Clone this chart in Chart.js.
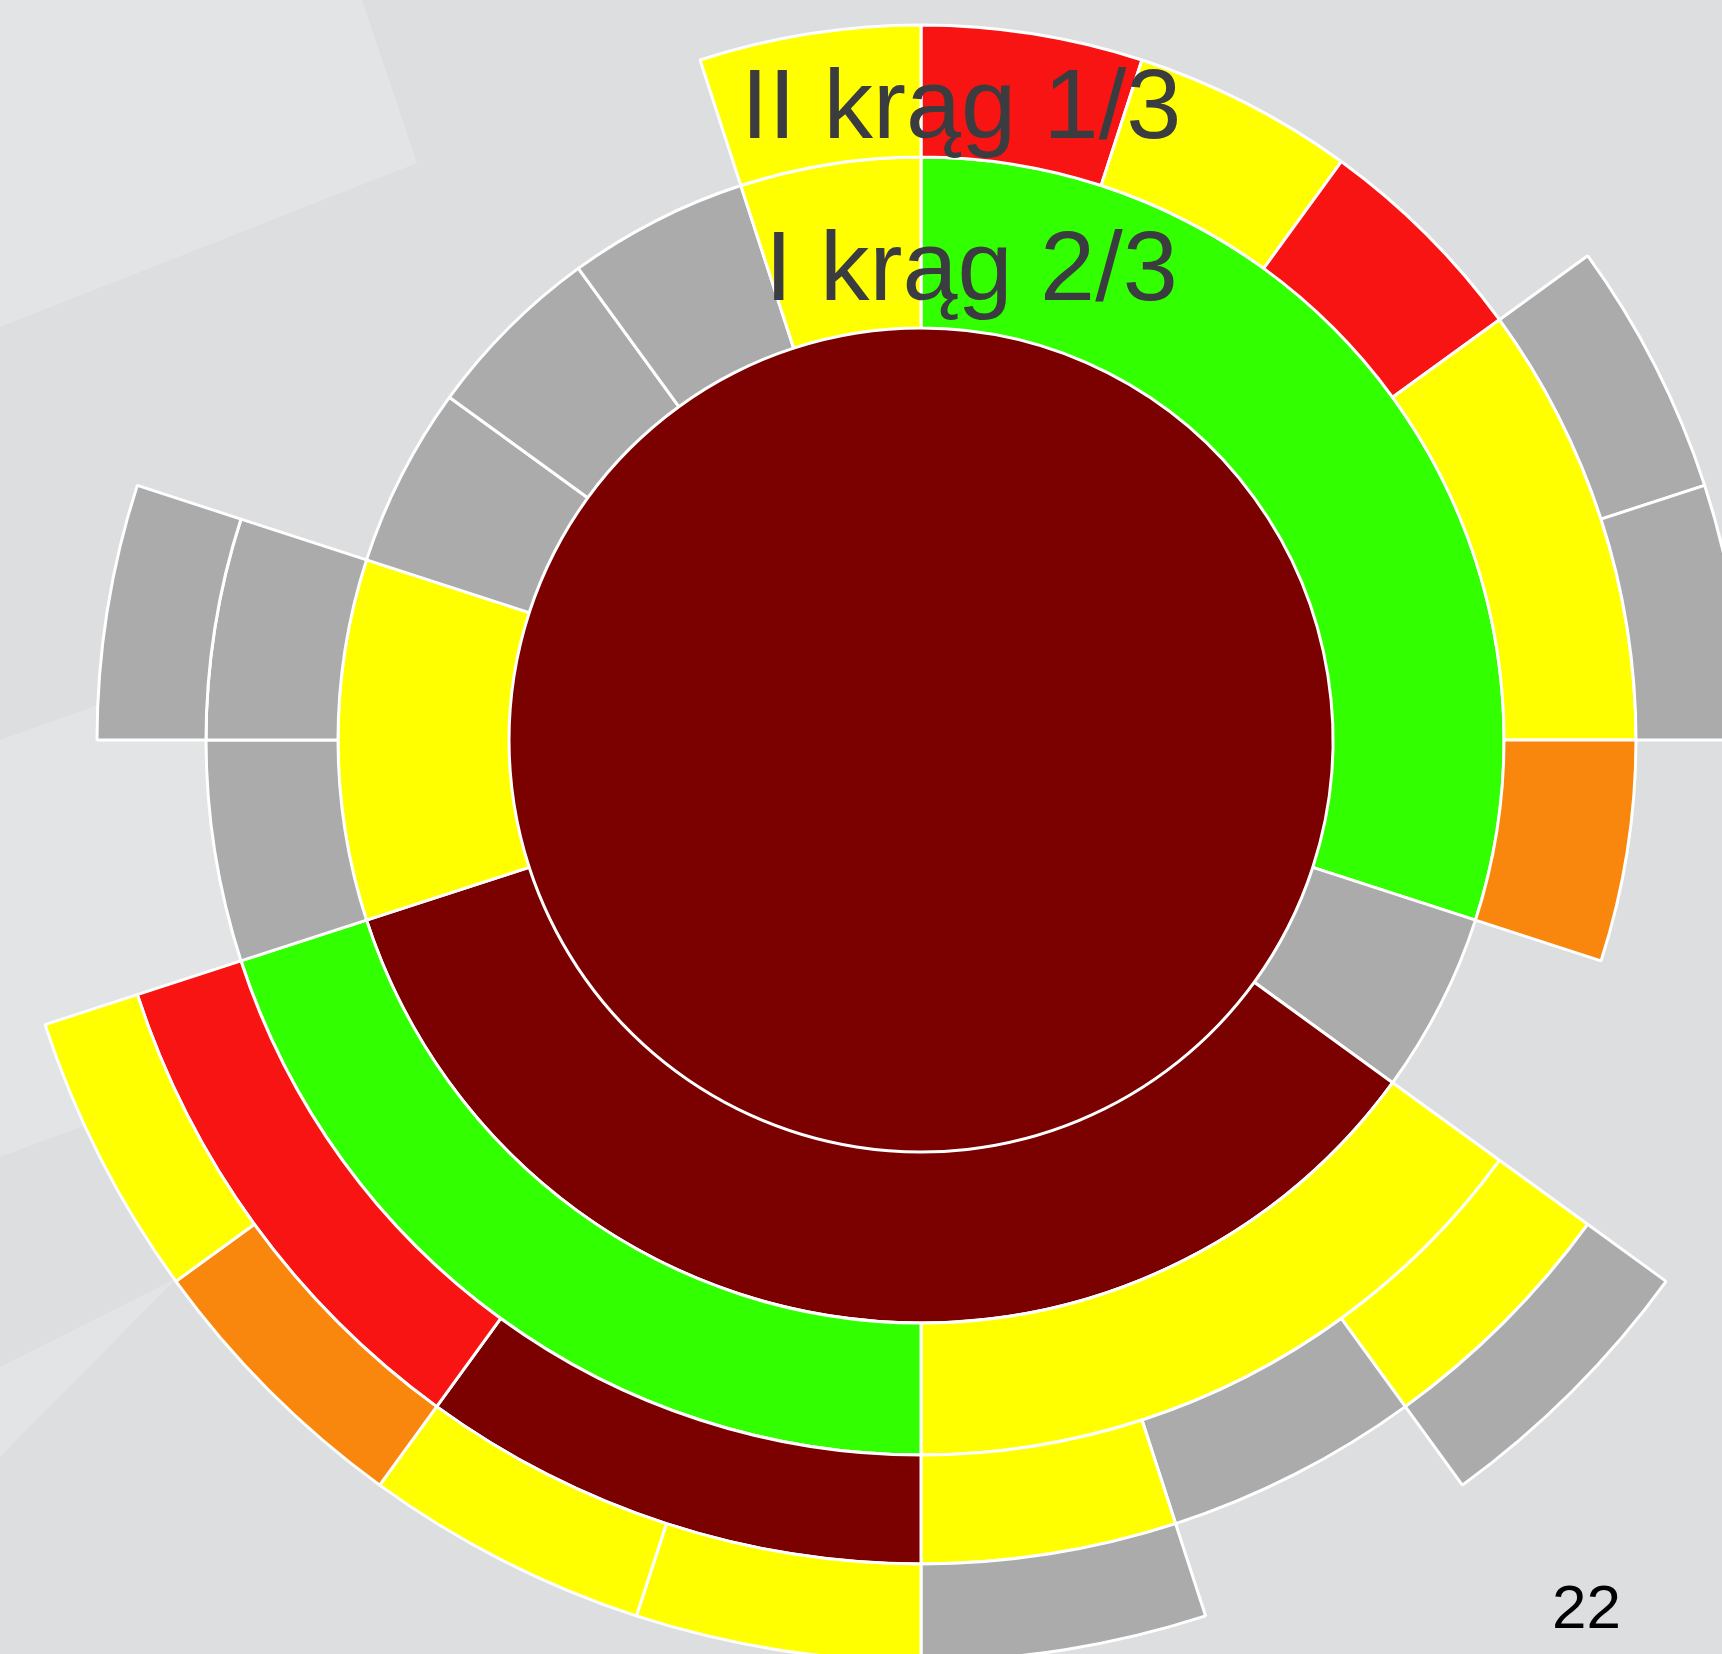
<!DOCTYPE html>
<html lang="pl">
<head>
<meta charset="utf-8">
<title>Krąg</title>
<script src="https://cdn.jsdelivr.net/npm/chart.js@4.4.1/dist/chart.umd.min.js"></script>
<style>
  html, body { margin: 0; padding: 0; }
  body {
    width: 1722px;
    height: 1654px;
    overflow: hidden;
    position: relative;
    background: #DDDEE0;
    font-family: "Liberation Sans", Arial, sans-serif;
  }
  #bg, #chart { position: absolute; left: 0; top: 0; }
  .label { position: absolute; white-space: nowrap; line-height: 1; }
  .ring-label { font-size: 99px; color: #3B3C40; }
  #slide-no { font-size: 62px; color: #000; }
</style>
</head>
<body>
<!-- slide background streaks -->
<svg id="bg" width="1722" height="1654">
  <polygon points="0,0 362,0 417,163 0,327" fill="#E3E4E5"/>
  <polygon points="0,740 700,490 700,898 0,1157" fill="#E3E4E5"/>
  <polygon points="177,1278 0,1367 0,1457" fill="#E3E4E5"/>
</svg>
<canvas id="chart" width="1722" height="1654"></canvas>
<div class="label ring-label" style="left:741px; top:54px;">II krąg 1/3</div>
<div class="label ring-label" style="left:765px; top:216px;">I krąg 2/3</div>
<div class="label" id="slide-no" style="left:1552px; top:1576px;">22</div>
<script>
// every ring is cut into 20 equal sectors (18 deg each), starting at 12 o'clock
// spans = how many sectors a cell covers, levels = cell rating (null = empty)
const coreSpans = [20];
const coreLevels = ['maroon'];

const ring1Spans = [6, 1, 7, 2, 1, 1, 1, 1];
const ring1Levels = ['green', 'gray', 'maroon', 'yellow', 'gray', 'gray', 'gray', 'yellow'];

const ring2Spans = [1, 1, 1, 2, 1, 1, 3, 4, 1, 1, 3, 1];
const ring2Levels = ['red', 'yellow', 'red', 'yellow', 'orange', null, 'yellow', 'green', 'gray', 'gray', null, 'yellow'];

const ring3Spans = [3, 1, 1, 2, 1, 1, 1, 2, 2, 1, 1, 4];
const ring3Levels = [null, 'gray', 'gray', null, 'yellow', 'gray', 'yellow', 'maroon', 'red', null, 'gray', null];

const ring4Spans = [7, 1, 1, 1, 1, 1, 1, 1, 6];
const ring4Levels = [null, 'gray', null, 'gray', 'yellow', 'yellow', 'orange', 'yellow', null];

const palette = {
    maroon: '#7B0000',
    green: '#32FF00',
    yellow: '#FFFF00',
    red: '#F91414',
    orange: '#F9870D',
    gray: '#ABABAB'
};

function ringDataset(spans, levels, weight, lineWidth) {
    return {
        data: spans,
        backgroundColor: levels.map(l => l ? palette[l] : 'rgba(0,0,0,0)'),
        borderColor: '#FFFFFF',
        borderWidth: levels.map(l => l ? lineWidth : 0),
        weight: weight,
        clip: false
    };
}

const ctx = document.getElementById('chart').getContext('2d');

// outermost ring first, core last (core has no border: the white circle
// round it comes from the first ring's cells)
new Chart(ctx, {
    type: 'doughnut',
    data: {
        datasets: [
            ringDataset(ring4Spans, ring4Levels, 97, 3),
            ringDataset(ring3Spans, ring3Levels, 109, 3),
            ringDataset(ring2Spans, ring2Levels, 132, 3),
            ringDataset(ring1Spans, ring1Levels, 171, 3),
            ringDataset(coreSpans, coreLevels, 412, 0)
        ]
    },
    options: {
        responsive: false,
        animation: false,
        events: [],
        cutout: 0,
        radius: 921,
        layout: { padding: { left: 120, right: 0, top: 0, bottom: 174 } },
        plugins: {
            legend: { display: false },
            tooltip: { enabled: false }
        }
    }
});
</script>
</body>
</html>
